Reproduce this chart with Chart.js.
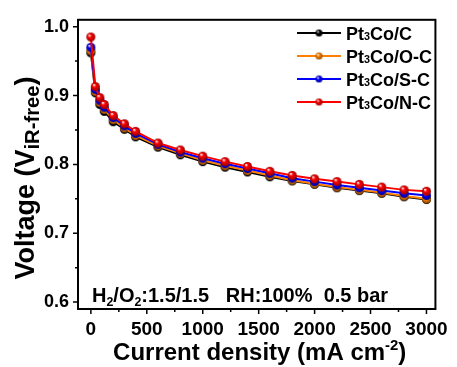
<!DOCTYPE html>
<html>
<head>
<meta charset="utf-8">
<script src="https://cdn.jsdelivr.net/npm/chart.js@4.4.1/dist/chart.umd.min.js"></script>
<style>
  html, body { margin: 0; padding: 0; background: #fff; }
  #wrap { width: 457px; height: 367px; position: relative; }
</style>
</head>
<body>
<div id="wrap"><canvas id="chart"></canvas></div>
<script>
const currents = [0, 40, 80, 120, 200, 300, 400, 600, 800, 1000, 1200, 1400, 1600, 1800, 2000, 2200, 2400, 2600, 2800, 3000];

const vPt3CoC  = [0.962, 0.904, 0.887, 0.877, 0.862, 0.851, 0.840, 0.825, 0.814, 0.804, 0.796, 0.789, 0.782, 0.776, 0.771, 0.766, 0.762, 0.758, 0.753, 0.749];
const vPt3CoOC = [0.965, 0.906, 0.890, 0.880, 0.865, 0.853, 0.842, 0.827, 0.816, 0.806, 0.798, 0.791, 0.784, 0.777, 0.772, 0.767, 0.763, 0.759, 0.754, 0.750];
const vPt3CoSC = [0.970, 0.909, 0.893, 0.883, 0.868, 0.856, 0.845, 0.829, 0.818, 0.809, 0.801, 0.794, 0.787, 0.780, 0.775, 0.770, 0.766, 0.762, 0.758, 0.755];
const vPt3CoNC = [0.985, 0.913, 0.897, 0.887, 0.871, 0.859, 0.848, 0.831, 0.821, 0.812, 0.804, 0.797, 0.790, 0.784, 0.779, 0.775, 0.771, 0.767, 0.763, 0.761];

const seriesNames = ['Pt₃Co/C', 'Pt₃Co/O-C', 'Pt₃Co/S-C', 'Pt₃Co/N-C'];
const seriesColors = ['#000000', '#FF8000', '#0000FF', '#FF0000'];

const xTicks = [0, 250, 500, 750, 1000, 1250, 1500, 1750, 2000, 2250, 2500, 2750, 3000];
const yTicks = [0.6, 0.65, 0.7, 0.75, 0.8, 0.85, 0.9, 0.95, 1.0];

const FONT = '"Liberation Sans", Arial, sans-serif';

// small shaded ball used as marker
function makeBall(color, r) {
  const c = document.createElement('canvas');
  const s = r * 2 + 2;
  c.width = s; c.height = s;
  const g = c.getContext('2d');
  const cx = s / 2, cy = s / 2;
  const grad = g.createRadialGradient(cx - r * 0.35, cy - r * 0.4, 0.3, cx, cy, r);
  grad.addColorStop(0, '#ffffff');
  grad.addColorStop(0.35, color);
  grad.addColorStop(1, color === '#000000' ? '#000000' : shade(color));
  g.fillStyle = grad;
  g.beginPath();
  g.arc(cx, cy, r, 0, Math.PI * 2);
  g.fill();
  return c;
}
function shade(hex) {
  const n = parseInt(hex.slice(1), 16);
  const r = Math.round(((n >> 16) & 255) * 0.6);
  const gg = Math.round(((n >> 8) & 255) * 0.6);
  const b = Math.round((n & 255) * 0.6);
  return `rgb(${r},${gg},${b})`;
}

const balls = seriesColors.map(c => makeBall(c, 4.5));
const legendBalls = seriesColors.map(c => makeBall(c, 3.5));

// draws text pieces with sub/superscripts, returns width
function richText(ctx, parts, x, y, size, measureOnly, ratio = 0.62) {
  let w = 0;
  for (const p of parts) {
    const s = p.sub || p.sup || p.small ? size * ratio : size;
    ctx.font = `bold ${s}px ${FONT}`;
    const dy = p.sub ? size * 0.2 : p.sup ? -size * 0.42 : 0;
    if (!measureOnly) ctx.fillText(p.t, x + w, y + dy);
    w += ctx.measureText(p.t).width;
  }
  return w;
}

const decorPlugin = {
  id: 'decor',
  afterDraw(chart) {
    const { ctx, chartArea: a, scales } = chart;
    ctx.save();
    ctx.strokeStyle = '#000';
    ctx.fillStyle = '#000';

    // frame
    ctx.lineWidth = 2;
    ctx.strokeRect(a.left, a.top, a.right - a.left, a.bottom - a.top);

    // tick marks
    ctx.lineWidth = 1.5;
    ctx.beginPath();
    xTicks.forEach(v => {
      const px = scales.x.getPixelForValue(v);
      const len = v % 500 === 0 ? 5 : 3;
      ctx.moveTo(px, a.bottom);
      ctx.lineTo(px, a.bottom + len);
    });
    yTicks.forEach(v => {
      const py = scales.y.getPixelForValue(v);
      const len = Math.abs(v * 10 - Math.round(v * 10)) < 1e-6 ? 5 : 3;
      ctx.moveTo(a.left, py);
      ctx.lineTo(a.left - len, py);
    });
    ctx.stroke();

    ctx.textBaseline = 'alphabetic';
    ctx.textAlign = 'left';

    // x title
    const xParts = [{ t: 'Current density (mA cm' }, { t: '-2', sup: true }, { t: ')' }];
    const xw = richText(ctx, xParts, 0, 0, 24, true);
    richText(ctx, xParts, (a.left + a.right) / 2 + 3 - xw / 2, 360, 24);

    // y title
    const yParts = [{ t: 'Voltage (V' }, { t: 'iR-free', sub: true }, { t: ')' }];
    const yw = richText(ctx, yParts, 0, 0, 27, true, 0.75);
    ctx.save();
    ctx.translate(34, 178);
    ctx.rotate(-Math.PI / 2);
    richText(ctx, yParts, -yw / 2, 0, 27, false, 0.75);
    ctx.restore();

    // condition note
    richText(ctx, [
      { t: 'H' }, { t: '2', sub: true }, { t: '/O' }, { t: '2', sub: true },
      { t: ':1.5/1.5   RH:100%  0.5 bar' }
    ], 92, 302, 20);

    // legend
    const rows = [33, 56, 79, 102];
    chart.data.datasets.forEach((ds, i) => {
      const y = rows[i];
      ctx.strokeStyle = ds.borderColor;
      ctx.lineWidth = 2;
      ctx.beginPath();
      ctx.moveTo(297, y);
      ctx.lineTo(341, y);
      ctx.stroke();
      const b = legendBalls[i];
      ctx.drawImage(b, 319 - b.width / 2, y - b.height / 2);
      ctx.fillStyle = '#000';
      const [pre, post] = ds.label.split('₃');
      richText(ctx, [{ t: pre }, { t: '3', small: true }, { t: post }], 346, y + 7, 18, false, 0.6);
    });

    ctx.restore();
  }
};

const datasets = [vPt3CoC, vPt3CoOC, vPt3CoSC, vPt3CoNC].map((vals, i) => ({
  label: seriesNames[i],
  data: currents.map((x, j) => ({ x: x, y: vals[j] })),
  borderColor: seriesColors[i],
  backgroundColor: seriesColors[i],
  borderWidth: 2,
  showLine: true,
  pointStyle: balls[i],
  pointRadius: 4.5,
  order: 3 - i
}));

new Chart(document.getElementById('chart'), {
  type: 'scatter',
  data: { datasets },
  options: {
    responsive: true,
    maintainAspectRatio: false,
    animation: false,
    layout: { padding: { top: 15, right: 16, left: 0, bottom: 0 } },
    plugins: {
      legend: { display: false },
      tooltip: { enabled: false }
    },
    scales: {
      x: {
        type: 'linear',
        min: -115,
        max: 3080,
        grid: { display: false, drawTicks: false },
        border: { display: false },
        afterBuildTicks: s => { s.ticks = xTicks.map(v => ({ value: v })); },
        afterFit: s => { s.height = 58; },
        ticks: {
          autoSkip: false,
          maxRotation: 0,
          padding: 9,
          color: '#000',
          font: { family: FONT, size: 19, weight: 'bold' },
          callback: v => (v % 500 === 0 ? String(v) : '')
        }
      },
      y: {
        min: 0.59,
        max: 1.01,
        grid: { display: false, drawTicks: false },
        border: { display: false },
        afterBuildTicks: s => { s.ticks = yTicks.map(v => ({ value: v })); },
        afterFit: s => { s.width = 78; },
        ticks: {
          autoSkip: false,
          padding: 9,
          color: '#000',
          font: { family: FONT, size: 18, weight: 'bold' },
          callback: v => (Math.abs(v * 10 - Math.round(v * 10)) < 1e-6 ? v.toFixed(1) : '')
        }
      }
    }
  },
  plugins: [decorPlugin]
});
</script>
</body>
</html>
